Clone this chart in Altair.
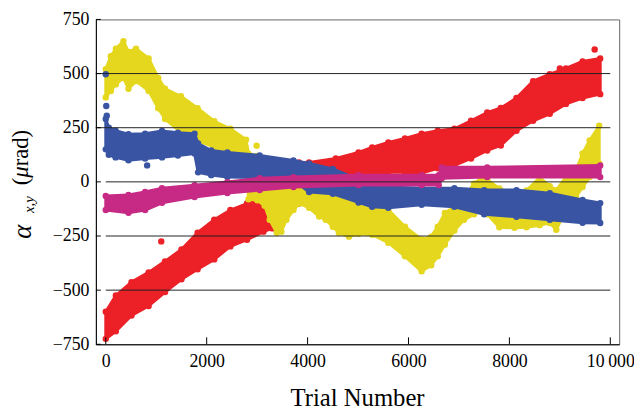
import altair as alt
import pandas as pd

FONT = "Liberation Serif, Times New Roman, serif"

# ---- axis ticks ----
X_TICKS = [0, 2000, 4000, 6000, 8000, 10000]
Y_TICKS = [-750, -500, -250, 0, 250, 500, 750]
GRID_FULL = [250, 500]
GRID_PART = [-500, -250, 0]

# ---- red series (band: trial, lower, upper) ----
RED_X = [0, 200, 510, 850, 1175, 1500, 1820, 2150, 2470, 2800, 3125, 3300, 3420, 3830, 4030, 4560,
         5010, 5280, 5600, 5930, 6260, 6580, 6910, 7240, 7560, 7830, 8140, 8470, 8800, 9120, 9450, 9800]
RED_LO = [-725, -690, -617, -573, -509, -450, -404, -358, -298, -267, -230, -215, -130, -100, -85, -60,
          -10, 40, 44, 44, 40, 63, 76, 108, 145, 168, 236, 282, 314, 360, 387, 405]
RED_HI = [-600, -525, -463, -418, -367, -312, -235, -175, -130, -100, -84, -80, 40, 90, 90, 108,
          136, 159, 182, 200, 222, 236, 245, 282, 320, 341, 387, 465, 497, 524, 556, 570]
RED_DX = [9690, 1100, 9000]
RED_DY = [611, -275, 524]

# ---- yellow series ----
YEL_X = [0, 100, 200, 350, 450, 600, 850, 1040, 1175, 1490, 1820, 2150, 2470, 2780, 2830, 3000, 3150,
         3250, 3390, 3480, 3580, 3720, 3840, 4030, 4230, 4360, 4500, 4620, 4820, 5010, 5280, 5600,
         5930, 6260, 6450, 6580, 6720, 6910, 7100, 7300, 7440, 7560, 7800, 8100, 8340, 8600, 8800,
         8930, 9120, 9320, 9450, 9590, 9780]
YEL_LO = [390, 420, 450, 480, 430, 465, 420, 340, 290, 230, 190, 160, 115, 80, -80, -85, -110,
          -175, -235, -230, -175, -130, -100, -120, -160, -175, -207, -235, -253, -240, -244, -281,
          -344, -413, -385, -344, -290, -225, -175, -150, -129, -150, -210, -212, -210, -200, -190,
          -221, -129, -70, -24, 22, 85]
YEL_HI = [520, 580, 615, 650, 600, 615, 570, 480, 430, 395, 340, 280, 245, 195, 130, 120, 100,
          30, -20, -15, -10, 0, 0, -10, -20, -40, -50, -60, -70, -75, -84, -129,
          -207, -266, -253, -207, -144, -115, -70, -8, 17, 10, -30, -60, -40, 20, -20,
          -38, 22, 53, 131, 191, 259]
YEL_DX = [2990]
YEL_DY = [167]

# ---- blue series ----
BLU_X = [0, 60, 195, 450, 780, 1115, 1430, 1760, 1830, 2090, 2410, 3050, 3720, 4030, 4500, 5010,
         5280, 5600, 6260, 6910, 7500, 8140, 8800, 9450, 9800]
BLU_LO = [150, 125, 113, 100, 108, 113, 122, 131, 44, 31, 22, 20, 8, -47, -55, -95,
          -115, -120, -106, -115, -150, -161, -175, -189, -190]
BLU_HI = [290, 250, 236, 220, 222, 235, 227, 222, 177, 145, 136, 122, 99, 85, 60, 10,
          -24, -24, -29, -29, -38, -38, -52, -84, -98]
BLU_DX = [0, 10, 20, 820]
BLU_DY = [497, 350, 305, 76]

# ---- magenta series ----
MAG_X = [0, 450, 780, 1115, 1760, 2410, 3050, 3720, 5010, 6260, 6600, 6660, 7560, 9800]
MAG_LO = [-130, -143, -130, -97, -70, -52, -38, -24, -15, -15, -15, 17, 22, 22]
MAG_HI = [-65, -61, -47, -29, -15, -1, 17, 22, 31, 31, 31, 67, 67, 76]

RED, YEL, BLU, MAG = "#EC2027", "#E4D71E", "#3A54A4", "#C62A84"

W, H = 530, 329
XDOM = [-196, 10176]

xscale = alt.Scale(domain=XDOM, nice=False, zero=False)
yscale = alt.Scale(domain=[-750, 750], nice=False, zero=False)

xaxis = alt.Axis(values=X_TICKS, title=None, grid=False, tickSize=0, labelPadding=9,
                 labelFont=FONT, labelFontSize=18, labelColor="black", domainColor="black",
                 labelFlush=False,
                 labelExpr="datum.value == 10000 ? '10\u2009000' : '' + datum.value")
yaxis = alt.Axis(values=Y_TICKS, title=None, grid=False, tickSize=0, labelPadding=7,
                 labelFont=FONT, labelFontSize=18, labelColor="black", domainColor="black")


def band(xs, lo, hi, color):
    df = pd.DataFrame({"x": xs, "lo": lo, "hi": hi})
    base = alt.Chart(df)
    area = base.mark_area(color=color, stroke=color, strokeWidth=3,
                          strokeJoin="round", opacity=1).encode(
        x=alt.X("x:Q", scale=xscale, axis=xaxis),
        y=alt.Y("lo:Q", scale=yscale, axis=yaxis),
        y2=alt.Y2("hi:Q"),
    )
    lo_pts = base.mark_circle(size=42, opacity=1, color=color).encode(
        x=alt.X("x:Q", scale=xscale, axis=xaxis),
        y=alt.Y("lo:Q", scale=yscale, axis=yaxis),
    )
    hi_pts = base.mark_circle(size=42, opacity=1, color=color).encode(
        x=alt.X("x:Q", scale=xscale, axis=xaxis),
        y=alt.Y("hi:Q", scale=yscale, axis=yaxis),
    )
    return alt.layer(area, lo_pts, hi_pts)


def dots(xs, ys, color):
    df = pd.DataFrame({"x": xs, "y": ys})
    return alt.Chart(df).mark_circle(size=42, opacity=1, color=color).encode(
        x=alt.X("x:Q", scale=xscale, axis=xaxis),
        y=alt.Y("y:Q", scale=yscale, axis=yaxis),
    )


grid_full = alt.Chart(pd.DataFrame({"g": GRID_FULL})).mark_rule(color="#222", strokeWidth=1).encode(
    y=alt.Y("g:Q", scale=yscale, axis=yaxis), x=alt.datum(XDOM[0]), x2=alt.datum(10000))
grid_part = alt.Chart(pd.DataFrame({"g": GRID_PART})).mark_rule(color="#222", strokeWidth=1).encode(
    y=alt.Y("g:Q", scale=yscale, axis=yaxis), x=alt.datum(0), x2=alt.datum(10000))

yticks = alt.Chart(pd.DataFrame({"v": Y_TICKS})).mark_rule(color="black").encode(
    y=alt.Y("v:Q", scale=yscale, axis=yaxis), x=alt.value(0), x2=alt.value(5))
xticks = alt.Chart(pd.DataFrame({"v": X_TICKS})).mark_rule(color="black").encode(
    x=alt.X("v:Q", scale=xscale, axis=xaxis), y=alt.value(H), y2=alt.value(H - 7))


def label(txt, px, py, size, style="normal", angle=0, align="center"):
    return alt.Chart(pd.DataFrame({"t": [txt]})).mark_text(
        font=FONT, fontSize=size, fontStyle=style, angle=angle, align=align,
        baseline="alphabetic", color="black").encode(
        text="t:N", x=alt.value(px), y=alt.value(py))


xtitle = label("Trial Number", 265, 392, 25)
yt_alpha = label("α", -66, 222, 27, style="italic", angle=270, align="left")
yt_sub = label("x,y", -62.5, 196, 15, style="italic", angle=270, align="left")
yt_p1 = label("(", -69, 168, 23, angle=270, align="left")
yt_mu = label("μ", -69, 160.3, 23, style="italic", angle=270, align="left")
yt_p2 = label("rad)", -69, 148.8, 23, angle=270, align="left")

chart = alt.layer(
    band(RED_X, RED_LO, RED_HI, RED), dots(RED_DX, RED_DY, RED),
    band(YEL_X, YEL_LO, YEL_HI, YEL), dots(YEL_DX, YEL_DY, YEL),
    band(BLU_X, BLU_LO, BLU_HI, BLU), dots(BLU_DX, BLU_DY, BLU),
    band(MAG_X, MAG_LO, MAG_HI, MAG),
    grid_full, grid_part, yticks, xticks,
    xtitle, yt_alpha, yt_sub, yt_p1, yt_mu, yt_p2,
).properties(
    width=W, height=H,
    padding={"left": 89, "top": 9, "right": 15, "bottom": 66},
    autosize=alt.AutoSizeParams(type="none"),
).configure_view(stroke="#666", strokeWidth=1)

chart.save("out.html", embed_options={"renderer": "svg", "actions": False})
